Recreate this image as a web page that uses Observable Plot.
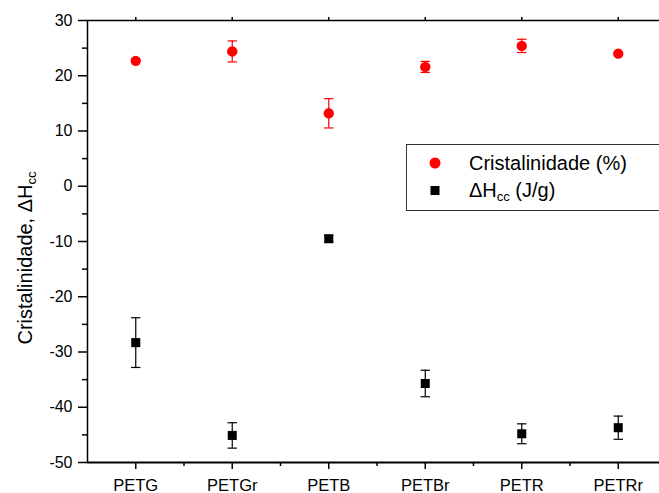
<!DOCTYPE html>
<html>
<head>
<meta charset="utf-8">
<script src="https://cdn.jsdelivr.net/npm/d3@7"></script>
<script src="https://cdn.jsdelivr.net/npm/@observablehq/plot@0.6"></script>
<style>
  html, body { margin: 0; padding: 0; background: #fff; }
  #chart { width: 659px; height: 493px; overflow: hidden; }
</style>
</head>
<body>
<div id="chart"></div>
<script>
const categories = ["PETG", "PETGr", "PETB", "PETBr", "PETR", "PETRr"];
const cristalinidade = [22.7, 24.4, 13.2, 21.6, 25.4, 24.0];
const cristalinidadeErr = [0, 1.9, 2.65, 1.0, 1.2, 0];
const deltaHcc = [-28.3, -45.1, -9.5, -35.7, -44.8, -43.7];
const deltaHccErr = [4.5, 2.3, 0.6, 2.4, 1.8, 2.1];
const yMajorTicks = [-50, -40, -30, -20, -10, 0, 10, 20, 30];
const yMinorTicks = [-45, -35, -25, -15, -5, 5, 15, 25];

const FONT = "'Liberation Sans', Arial, Helvetica, sans-serif";

const red = categories.map((c, i) => ({i: i + 1, c, v: cristalinidade[i], e: cristalinidadeErr[i]}));
const black = categories.map((c, i) => ({i: i + 1, c, v: deltaHcc[i], e: deltaHccErr[i]}));

const capSymbol = {
  draw(ctx, size) {
    const w = Math.sqrt(size / Math.PI);
    ctx.moveTo(-w, 0);
    ctx.lineTo(w, 0);
  }
};

const xIdx = categories.map((c, i) => i + 1);
const xMinor = categories.map((c, i) => i + 1.5);

const chart = Plot.plot({
  width: 659,
  height: 493,
  marginLeft: 87,
  marginTop: 20,
  marginBottom: 31,
  marginRight: 0,
  style: {fontFamily: FONT, fontSize: "16px", color: "#000", background: "#fff"},
  x: {domain: [0.5, 0.5 + 572 / 96.5]},
  y: {domain: [-50, 30]},
  marks: [
    Plot.frame({anchor: "top", stroke: "#000", strokeWidth: 1.5}),
    Plot.axisY({ticks: yMajorTicks, tickSize: 9, tickPadding: 6, tickFormat: d => d, fontSize: 16, label: null, strokeWidth: 1.5}),
    Plot.axisY({ticks: yMinorTicks, tickSize: 5, tickFormat: () => "", label: null, strokeWidth: 1.5}),
    Plot.axisX({ticks: xIdx, tickSize: 7, tickPadding: 10, tickFormat: d => categories[d - 1], fontSize: 16.5, label: null, strokeWidth: 1.5}),
    Plot.axisX({ticks: xMinor, tickSize: 4, tickFormat: () => "", label: null, strokeWidth: 1.5}),
    Plot.axisX({anchor: "top", ticks: xIdx, tickSize: 4, tickFormat: () => "", label: null, strokeWidth: 1.5}),
    Plot.ruleX([0.5], {stroke: "#000", strokeWidth: 1.5}),
    Plot.ruleY([-50], {stroke: "#000", strokeWidth: 2}),
    // error bars red
    Plot.ruleX(red.filter(d => d.e > 0), {x: "i", y1: d => d.v - d.e, y2: d => d.v + d.e, stroke: "#ff0000", strokeWidth: 1.2}),
    Plot.dot(red.filter(d => d.e > 0), {x: "i", y: d => d.v - d.e, symbol: capSymbol, r: 4.7, stroke: "#ff0000", strokeWidth: 1.2, fill: "none"}),
    Plot.dot(red.filter(d => d.e > 0), {x: "i", y: d => d.v + d.e, symbol: capSymbol, r: 4.7, stroke: "#ff0000", strokeWidth: 1.2, fill: "none"}),
    // error bars black
    Plot.ruleX(black, {x: "i", y1: d => d.v - d.e, y2: d => d.v + d.e, stroke: "#000", strokeWidth: 1.2}),
    Plot.dot(black, {x: "i", y: d => d.v - d.e, symbol: capSymbol, r: 4.7, stroke: "#000", strokeWidth: 1.2, fill: "none"}),
    Plot.dot(black, {x: "i", y: d => d.v + d.e, symbol: capSymbol, r: 4.7, stroke: "#000", strokeWidth: 1.2, fill: "none"}),
    // points
    Plot.dot(red, {x: "i", y: "v", r: 5.2, fill: "#ff0000", stroke: "none"}),
    Plot.dot(black, {x: "i", y: "v", symbol: "square", r: 5.1, fill: "#000", stroke: "none"})
  ]
});

document.getElementById("chart").appendChild(chart);

const svg = d3.select(chart);

// Y axis label with subscript
const yl = svg.append("text")
  .attr("transform", "translate(25,258) rotate(-90)")
  .attr("text-anchor", "middle")
  .attr("dominant-baseline", "central")
  .attr("font-family", FONT)
  .attr("font-size", 20)
  .attr("fill", "#000");
yl.append("tspan").text("Cristalinidade, \u0394H");
yl.append("tspan").attr("font-size", 13).attr("dy", 6).text("cc");

// Legend
const lg = svg.append("g").attr("font-family", FONT).attr("font-size", 20).attr("fill", "#000").attr("text-anchor", "start");
lg.append("rect").attr("x", 406.5).attr("y", 144.5).attr("width", 300).attr("height", 66)
  .attr("fill", "#fff").attr("stroke", "#333").attr("stroke-width", 1);
lg.append("circle").attr("cx", 435).attr("cy", 163).attr("r", 5.5).attr("fill", "#ff0000");
lg.append("rect").attr("x", 430.5).attr("y", 186).attr("width", 9).attr("height", 9).attr("fill", "#000");
lg.append("text").attr("x", 469).attr("y", 163).attr("dominant-baseline", "central").attr("text-anchor", "start").text("Cristalinidade (%)");
const t2 = lg.append("text").attr("x", 469).attr("y", 190).attr("dominant-baseline", "central").attr("text-anchor", "start");
t2.append("tspan").text("\u0394H");
t2.append("tspan").attr("font-size", 13).attr("dy", 6).text("cc");
t2.append("tspan").attr("dy", -6).text(" (J/g)");
</script>
</body>
</html>
